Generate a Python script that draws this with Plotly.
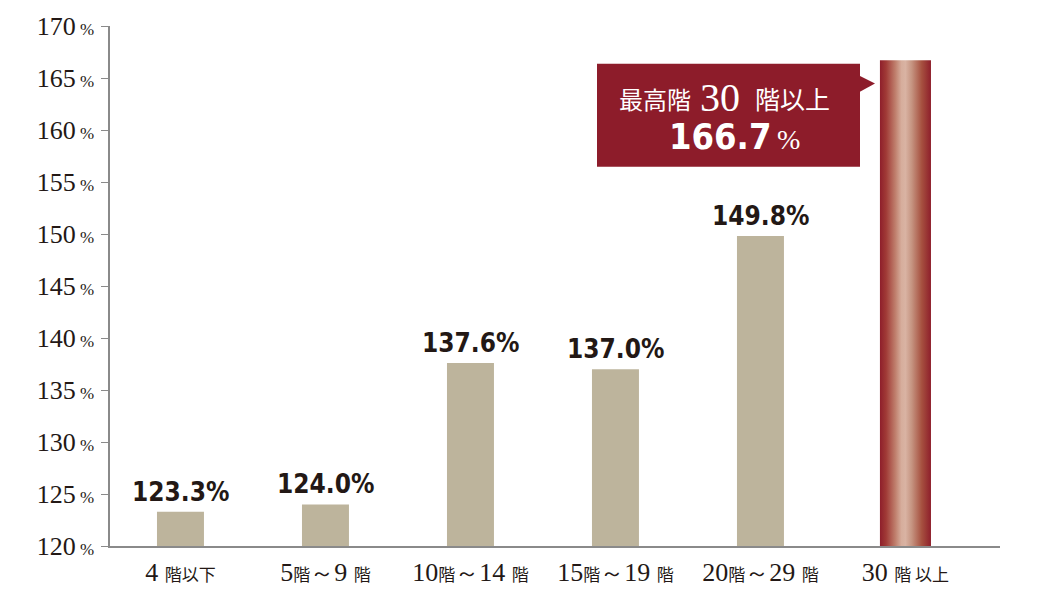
import plotly.graph_objects as go

categories = ["4階以下", "5階～9階", "10階～14階", "15階～19階", "20階～29階", "30階以上"]
cat_num = ["4", "5", "10", "15", "20", "30"]
values = [123.3, 124.0, 137.6, 137.0, 149.8, 166.7]
value_labels = ["123.3%", "124.0%", "137.6%", "137.0%", "149.8%", "166.7%"]
y_ticks = [120, 125, 130, 135, 140, 145, 150, 155, 160, 165, 170]

SERIF = "Liberation Serif, Times New Roman, serif"
CJK = "Noto Sans CJK JP, sans-serif"
NARROW = "DejaVu Sans Condensed, Liberation Sans Narrow, sans-serif"
TXT = "#231815"
AXIS = "#8a8a8a"
BAR = "#bdb49c"

xs = list(range(len(values)))
widths = [0.324] * 5 + [0.352]

KJ = "<span style='font-family:%s;font-size:17px'>%%s</span>" % CJK
WAVE = "<span style='font-family:%s;font-size:24px'>～</span>" % SERIF


def xlabel(i):
    n = cat_num[i]
    if i == 0:
        return n + " " + KJ % "階以下"
    if i == 5:
        return n + " " + KJ % "階 以上"
    a, b = categories[i].replace("階", "").split("～")
    return a + KJ % "階" + WAVE + b + " " + KJ % "階"


fig = go.Figure()
fig.add_trace(go.Bar(
    x=xs[:5], y=values[:5], width=widths[:5],
    marker=dict(color=BAR, line=dict(width=0)),
    hoverinfo="skip",
))
x5 = xs[5]
w5 = widths[5]
fig.add_trace(go.Scatter(
    x=[x5 - w5 / 2, x5 + w5 / 2, x5 + w5 / 2, x5 - w5 / 2, x5 - w5 / 2],
    y=[120, 120, values[5], values[5], 120],
    mode="lines", line=dict(width=0), fill="toself",
    fillgradient=dict(type="horizontal", colorscale=[
        [0.0, "#8e1f2b"], [0.12, "#a03a36"], [0.3, "#bf7e6c"],
        [0.42, "#d6ad9c"], [0.5, "#d9b3a3"], [0.62, "#c69582"],
        [0.82, "#a6503f"], [1.0, "#8e1f2b"]]),
    hoverinfo="skip", showlegend=False,
))

for i in range(5):
    fig.add_annotation(
        x=xs[i], y=values[i], text=value_labels[i], showarrow=False,
        yanchor="bottom", yshift=3,
        font=dict(family=NARROW, size=26, color=TXT, weight="bold"),
    )

ytext = ["%d<span style='font-size:17px'> %%</span>" % v for v in y_ticks]

fig.update_layout(
    width=1038, height=599,
    margin=dict(l=110, r=38, t=24, b=50),
    paper_bgcolor="white", plot_bgcolor="white",
    showlegend=False,
    xaxis=dict(
        range=[-0.486, 5.652], tickvals=xs, ticktext=[xlabel(i) for i in xs],
        showline=True, linecolor=AXIS, linewidth=1.5, ticks="", showgrid=False,
        zeroline=False, tickfont=dict(family=SERIF, size=26, color=TXT),
        ticklabelstandoff=2,
    ),
    yaxis=dict(
        range=[120, 170], tickvals=y_ticks, ticktext=ytext,
        showline=True, linecolor=AXIS, linewidth=1.5, ticks="outside",
        ticklen=7, tickcolor=AXIS, tickwidth=1.2, showgrid=False, zeroline=False,
        tickfont=dict(family=SERIF, size=26, color=TXT), ticklabelstandoff=2,
    ),
)


def px_x(p):
    return (p - 110) / 890


def px_y(p):
    return (549 - p) / 525


fig.add_shape(type="rect", xref="paper", yref="paper",
              x0=px_x(597), x1=px_x(860), y0=px_y(166), y1=px_y(62),
              fillcolor="#8d1c2a", line=dict(width=0), layer="above")
fig.add_shape(type="path", xref="paper", yref="paper",
              path="M %f %f L %f %f L %f %f Z" % (px_x(859), px_y(74), px_x(875), px_y(82), px_x(859), px_y(91)),
              fillcolor="#8d1c2a", line=dict(width=0), layer="above")

callout = [
    ("最高階", CJK, 24, None, 655, 97),
    ("30", SERIF, 40, None, 720, 96),
    ("階以上", CJK, 25, None, 792, 97),
    ("166.7", NARROW, 36, "bold", 720, 136),
    ("%", SERIF, 28, None, 788, 139),
]
for t, fam, sz, wt, cx, cy in callout:
    f = dict(family=fam, size=sz, color="white")
    if wt:
        f["weight"] = wt
    fig.add_annotation(xref="paper", yref="paper", x=px_x(cx), y=px_y(cy),
                       xanchor="center", yanchor="middle", showarrow=False,
                       text=t, font=f)

fig.write_html("out.html", config={"displayModeBar": False},
               post_script="document.body.style.margin='0';document.body.style.padding='0';")
